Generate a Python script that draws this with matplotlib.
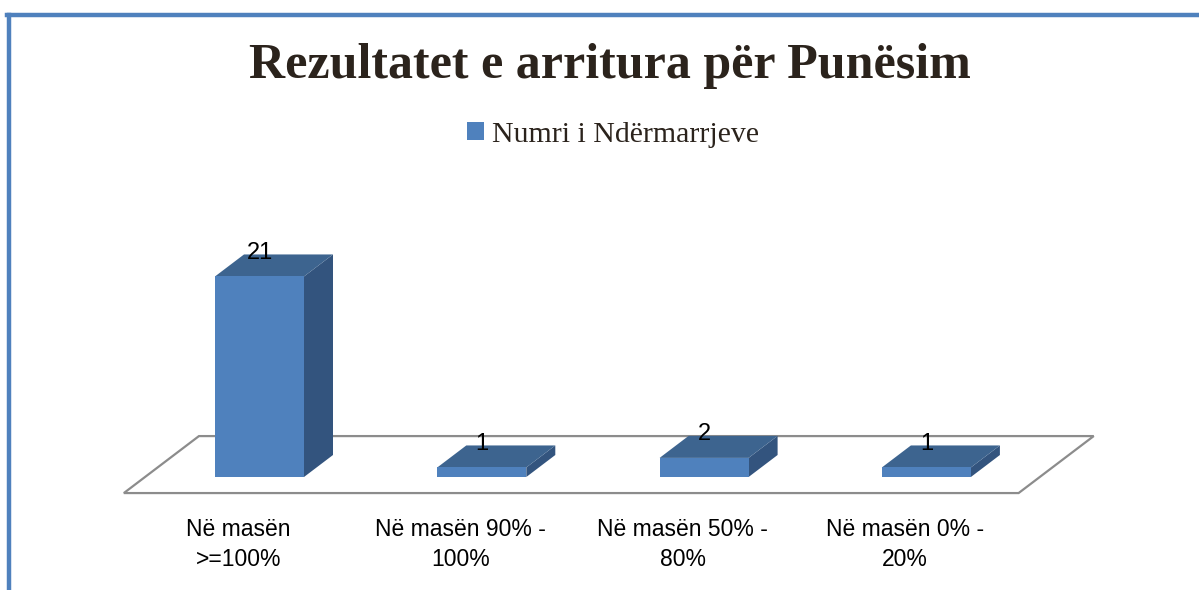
import numpy as np
import matplotlib.pyplot as plt
from matplotlib.patches import Polygon, Patch
from matplotlib.lines import Line2D

categories = ['Në masën\n>=100%', 'Në masën 90% -\n100%', 'Në masën 50% -\n80%', 'Në masën 0% -\n20%']
values = [21, 1, 2, 1]
series_name = 'Numri i Ndërmarrjeve'
title = 'Rezultatet e arritura për Punësim'

front_c = '#4f81bd'
top_c = '#3d648f'
side_c = '#33547e'

W, H = 1199, 590
fig = plt.figure(figsize=(W / 100, H / 100), dpi=100)
ax = fig.add_axes([0, 0, 1, 1])

# pixel layout of the fake 3d scene
x0_px, step_px = 259.5, 222.3      # centre of first bar, bar spacing
base_px, unit_px = 477, 9.55       # floor line of bar fronts (from top), px per value
ax.set_xlim(-x0_px / step_px, (W - x0_px) / step_px)
ax.set_ylim(-(H - base_px) / unit_px, base_px / unit_px)
ax.axis('off')

bw = 89 / step_px / 2              # half bar width in data units
ddx = 29 / step_px                 # depth shift, x
ddy = 22 / unit_px                 # depth shift, y
n = len(values)

# floor (depth from -0.73 to 1.86 of a bar depth)
f0, f1 = -0.73, 1.86
xl, xr = -0.515, n - 0.49
floor = Polygon([(xl + f0 * ddx, f0 * ddy), (xr + f0 * ddx, f0 * ddy),
                 (xr + f1 * ddx, f1 * ddy), (xl + f1 * ddx, f1 * ddy)],
                closed=True, facecolor='white', edgecolor='#8c8c8c', lw=1.6)
ax.add_patch(floor)

for i, v in enumerate(values):
    l, r = i - bw, i + bw
    front = Polygon([(l, 0), (r, 0), (r, v), (l, v)], facecolor=front_c, edgecolor='none')
    top = Polygon([(l, v), (r, v), (r + ddx, v + ddy), (l + ddx, v + ddy)],
                  facecolor=top_c, edgecolor='none')
    side = Polygon([(r, 0), (r + ddx, ddy), (r + ddx, v + ddy), (r, v)],
                   facecolor=side_c, edgecolor='none')
    for p in (side, top, front):
        ax.add_patch(p)
    ax.text(i, v + ddy + 0.2, str(v), ha='center', va='center', fontsize=17,
            family='Liberation Sans', color='black')
    ax.annotate(categories[i], (i + f0 * ddx, f0 * ddy), xytext=(0, -18),
                textcoords='offset points', ha='center', va='top', fontsize=16.5,
                family='Liberation Sans', linespacing=1.38)

fig.text(0.509, 1 - 78 / H, title, ha='center', va='baseline', fontsize=36,
         fontweight='bold', family='Liberation Serif', color='#2b231c')
fig.legend(handles=[Patch(facecolor=front_c, label=series_name)], loc='center',
           bbox_to_anchor=(0.5115, 1 - 135 / H), frameon=False, handlelength=0.55,
           handleheight=0.55, handletextpad=0.3, labelcolor='#2b231c',
           prop={'family': 'Liberation Serif', 'size': 21.5})

# chart border (only top and left edges visible)
fig.add_artist(Line2D([8.5 / W, 8.5 / W], [0, 1 - 15 / H], color=front_c, lw=3.2))
fig.add_artist(Line2D([7 / W, 1], [1 - 15 / H, 1 - 15 / H], color=front_c, lw=3.2))

fig.savefig('out.png', dpi=100)
